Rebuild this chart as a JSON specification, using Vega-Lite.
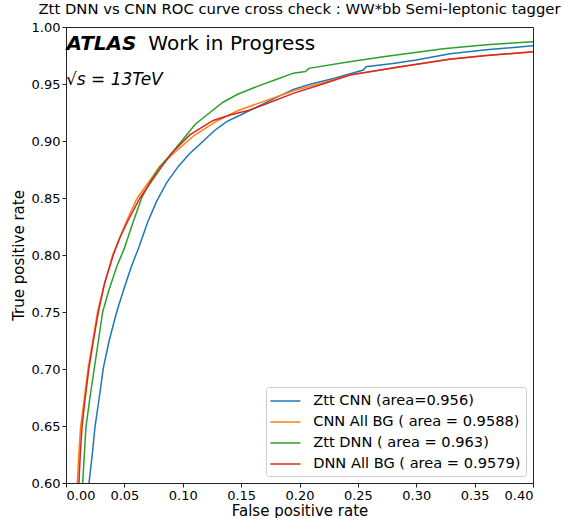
{
  "$schema": "https://vega.github.io/schema/vega-lite/v6.json",
  "width": 467,
  "height": 456,
  "autosize": {"type": "none"},
  "padding": {"left": 66, "top": 27, "right": 32, "bottom": 35},
  "config": {
    "font": "DejaVu Sans",
    "view": {"stroke": "#222", "strokeWidth": 1},
    "axis": {"grid": false, "domain": false, "tickColor": "#222", "tickSize": 4, "labelColor": "#000", "labelFontSize": 13, "titleFontSize": 15, "titleFontWeight": "normal", "titleColor": "#000", "labelPadding": 2}
  },
  "title": {"text": "Ztt DNN vs CNN ROC curve cross check : WW*bb Semi-leptonic tagger", "fontSize": 14.8, "fontWeight": "normal", "color": "#000", "anchor": "middle", "offset": 4, "frame": "group"},
  "datasets": {
    "roc": [
      {"model": "Ztt CNN (area=0.956)", "fpr": 0.0197, "tpr": 0.600},
      {"model": "Ztt CNN (area=0.956)", "fpr": 0.0225, "tpr": 0.625},
      {"model": "Ztt CNN (area=0.956)", "fpr": 0.0248, "tpr": 0.649},
      {"model": "Ztt CNN (area=0.956)", "fpr": 0.0285, "tpr": 0.675},
      {"model": "Ztt CNN (area=0.956)", "fpr": 0.0320, "tpr": 0.701},
      {"model": "Ztt CNN (area=0.956)", "fpr": 0.0370, "tpr": 0.725},
      {"model": "Ztt CNN (area=0.956)", "fpr": 0.0434, "tpr": 0.750},
      {"model": "Ztt CNN (area=0.956)", "fpr": 0.0495, "tpr": 0.770},
      {"model": "Ztt CNN (area=0.956)", "fpr": 0.0560, "tpr": 0.790},
      {"model": "Ztt CNN (area=0.956)", "fpr": 0.0625, "tpr": 0.807},
      {"model": "Ztt CNN (area=0.956)", "fpr": 0.0700, "tpr": 0.829},
      {"model": "Ztt CNN (area=0.956)", "fpr": 0.0776, "tpr": 0.847},
      {"model": "Ztt CNN (area=0.956)", "fpr": 0.0860, "tpr": 0.863},
      {"model": "Ztt CNN (area=0.956)", "fpr": 0.0960, "tpr": 0.8775},
      {"model": "Ztt CNN (area=0.956)", "fpr": 0.1060, "tpr": 0.889},
      {"model": "Ztt CNN (area=0.956)", "fpr": 0.1170, "tpr": 0.8994},
      {"model": "Ztt CNN (area=0.956)", "fpr": 0.1270, "tpr": 0.909},
      {"model": "Ztt CNN (area=0.956)", "fpr": 0.1376, "tpr": 0.917},
      {"model": "Ztt CNN (area=0.956)", "fpr": 0.1500, "tpr": 0.923},
      {"model": "Ztt CNN (area=0.956)", "fpr": 0.1576, "tpr": 0.927},
      {"model": "Ztt CNN (area=0.956)", "fpr": 0.1660, "tpr": 0.931},
      {"model": "Ztt CNN (area=0.956)", "fpr": 0.1800, "tpr": 0.938},
      {"model": "Ztt CNN (area=0.956)", "fpr": 0.1947, "tpr": 0.9453},
      {"model": "Ztt CNN (area=0.956)", "fpr": 0.2100, "tpr": 0.950},
      {"model": "Ztt CNN (area=0.956)", "fpr": 0.2300, "tpr": 0.955},
      {"model": "Ztt CNN (area=0.956)", "fpr": 0.2547, "tpr": 0.9623},
      {"model": "Ztt CNN (area=0.956)", "fpr": 0.2570, "tpr": 0.9652},
      {"model": "Ztt CNN (area=0.956)", "fpr": 0.2800, "tpr": 0.968},
      {"model": "Ztt CNN (area=0.956)", "fpr": 0.3000, "tpr": 0.971},
      {"model": "Ztt CNN (area=0.956)", "fpr": 0.3290, "tpr": 0.9765},
      {"model": "Ztt CNN (area=0.956)", "fpr": 0.3600, "tpr": 0.980},
      {"model": "Ztt CNN (area=0.956)", "fpr": 0.4000, "tpr": 0.9835},

      {"model": "\u00a0CNN All BG ( area = 0.9588)", "fpr": 0.0097, "tpr": 0.600},
      {"model": "\u00a0CNN All BG ( area = 0.9588)", "fpr": 0.0110, "tpr": 0.625},
      {"model": "\u00a0CNN All BG ( area = 0.9588)", "fpr": 0.0125, "tpr": 0.649},
      {"model": "\u00a0CNN All BG ( area = 0.9588)", "fpr": 0.0158, "tpr": 0.675},
      {"model": "\u00a0CNN All BG ( area = 0.9588)", "fpr": 0.0190, "tpr": 0.701},
      {"model": "\u00a0CNN All BG ( area = 0.9588)", "fpr": 0.0230, "tpr": 0.725},
      {"model": "\u00a0CNN All BG ( area = 0.9588)", "fpr": 0.0270, "tpr": 0.750},
      {"model": "\u00a0CNN All BG ( area = 0.9588)", "fpr": 0.0330, "tpr": 0.775},
      {"model": "\u00a0CNN All BG ( area = 0.9588)", "fpr": 0.0400, "tpr": 0.800},
      {"model": "\u00a0CNN All BG ( area = 0.9588)", "fpr": 0.0460, "tpr": 0.815},
      {"model": "\u00a0CNN All BG ( area = 0.9588)", "fpr": 0.0520, "tpr": 0.830},
      {"model": "\u00a0CNN All BG ( area = 0.9588)", "fpr": 0.0610, "tpr": 0.850},
      {"model": "\u00a0CNN All BG ( area = 0.9588)", "fpr": 0.0710, "tpr": 0.864},
      {"model": "\u00a0CNN All BG ( area = 0.9588)", "fpr": 0.0800, "tpr": 0.8775},
      {"model": "\u00a0CNN All BG ( area = 0.9588)", "fpr": 0.0920, "tpr": 0.889},
      {"model": "\u00a0CNN All BG ( area = 0.9588)", "fpr": 0.1100, "tpr": 0.905},
      {"model": "\u00a0CNN All BG ( area = 0.9588)", "fpr": 0.1300, "tpr": 0.918},
      {"model": "\u00a0CNN All BG ( area = 0.9588)", "fpr": 0.1480, "tpr": 0.927},
      {"model": "\u00a0CNN All BG ( area = 0.9588)", "fpr": 0.1700, "tpr": 0.935},
      {"model": "\u00a0CNN All BG ( area = 0.9588)", "fpr": 0.1950, "tpr": 0.944},
      {"model": "\u00a0CNN All BG ( area = 0.9588)", "fpr": 0.2200, "tpr": 0.951},
      {"model": "\u00a0CNN All BG ( area = 0.9588)", "fpr": 0.2430, "tpr": 0.958},
      {"model": "\u00a0CNN All BG ( area = 0.9588)", "fpr": 0.2860, "tpr": 0.965},
      {"model": "\u00a0CNN All BG ( area = 0.9588)", "fpr": 0.3290, "tpr": 0.972},
      {"model": "\u00a0CNN All BG ( area = 0.9588)", "fpr": 0.3600, "tpr": 0.975},
      {"model": "\u00a0CNN All BG ( area = 0.9588)", "fpr": 0.4000, "tpr": 0.978},

      {"model": "Ztt DNN ( area = 0.963)", "fpr": 0.0143, "tpr": 0.600},
      {"model": "Ztt DNN ( area = 0.963)", "fpr": 0.0157, "tpr": 0.625},
      {"model": "Ztt DNN ( area = 0.963)", "fpr": 0.0171, "tpr": 0.649},
      {"model": "Ztt DNN ( area = 0.963)", "fpr": 0.0205, "tpr": 0.675},
      {"model": "Ztt DNN ( area = 0.963)", "fpr": 0.0243, "tpr": 0.701},
      {"model": "Ztt DNN ( area = 0.963)", "fpr": 0.0278, "tpr": 0.725},
      {"model": "Ztt DNN ( area = 0.963)", "fpr": 0.0314, "tpr": 0.750},
      {"model": "Ztt DNN ( area = 0.963)", "fpr": 0.0370, "tpr": 0.770},
      {"model": "Ztt DNN ( area = 0.963)", "fpr": 0.0435, "tpr": 0.790},
      {"model": "Ztt DNN ( area = 0.963)", "fpr": 0.0500, "tpr": 0.806},
      {"model": "Ztt DNN ( area = 0.963)", "fpr": 0.0575, "tpr": 0.829},
      {"model": "Ztt DNN ( area = 0.963)", "fpr": 0.0648, "tpr": 0.850},
      {"model": "Ztt DNN ( area = 0.963)", "fpr": 0.0725, "tpr": 0.865},
      {"model": "Ztt DNN ( area = 0.963)", "fpr": 0.0805, "tpr": 0.8775},
      {"model": "Ztt DNN ( area = 0.963)", "fpr": 0.0905, "tpr": 0.8892},
      {"model": "Ztt DNN ( area = 0.963)", "fpr": 0.1020, "tpr": 0.9038},
      {"model": "Ztt DNN ( area = 0.963)", "fpr": 0.1105, "tpr": 0.9145},
      {"model": "Ztt DNN ( area = 0.963)", "fpr": 0.1233, "tpr": 0.925},
      {"model": "Ztt DNN ( area = 0.963)", "fpr": 0.1345, "tpr": 0.934},
      {"model": "Ztt DNN ( area = 0.963)", "fpr": 0.1470, "tpr": 0.941},
      {"model": "Ztt DNN ( area = 0.963)", "fpr": 0.1633, "tpr": 0.9477},
      {"model": "Ztt DNN ( area = 0.963)", "fpr": 0.1800, "tpr": 0.954},
      {"model": "Ztt DNN ( area = 0.963)", "fpr": 0.1947, "tpr": 0.9595},
      {"model": "Ztt DNN ( area = 0.963)", "fpr": 0.2050, "tpr": 0.961},
      {"model": "Ztt DNN ( area = 0.963)", "fpr": 0.2080, "tpr": 0.9637},
      {"model": "Ztt DNN ( area = 0.963)", "fpr": 0.2400, "tpr": 0.969},
      {"model": "Ztt DNN ( area = 0.963)", "fpr": 0.2718, "tpr": 0.974},
      {"model": "Ztt DNN ( area = 0.963)", "fpr": 0.3232, "tpr": 0.981},
      {"model": "Ztt DNN ( area = 0.963)", "fpr": 0.3600, "tpr": 0.9845},
      {"model": "Ztt DNN ( area = 0.963)", "fpr": 0.4000, "tpr": 0.9871},

      {"model": "\u00a0DNN All BG ( area = 0.9579)", "fpr": 0.0111, "tpr": 0.600},
      {"model": "\u00a0DNN All BG ( area = 0.9579)", "fpr": 0.0122, "tpr": 0.625},
      {"model": "\u00a0DNN All BG ( area = 0.9579)", "fpr": 0.0137, "tpr": 0.649},
      {"model": "\u00a0DNN All BG ( area = 0.9579)", "fpr": 0.0165, "tpr": 0.675},
      {"model": "\u00a0DNN All BG ( area = 0.9579)", "fpr": 0.0197, "tpr": 0.701},
      {"model": "\u00a0DNN All BG ( area = 0.9579)", "fpr": 0.0235, "tpr": 0.725},
      {"model": "\u00a0DNN All BG ( area = 0.9579)", "fpr": 0.0277, "tpr": 0.750},
      {"model": "\u00a0DNN All BG ( area = 0.9579)", "fpr": 0.0330, "tpr": 0.775},
      {"model": "\u00a0DNN All BG ( area = 0.9579)", "fpr": 0.0405, "tpr": 0.800},
      {"model": "\u00a0DNN All BG ( area = 0.9579)", "fpr": 0.0465, "tpr": 0.816},
      {"model": "\u00a0DNN All BG ( area = 0.9579)", "fpr": 0.0534, "tpr": 0.8307},
      {"model": "\u00a0DNN All BG ( area = 0.9579)", "fpr": 0.0634, "tpr": 0.850},
      {"model": "\u00a0DNN All BG ( area = 0.9579)", "fpr": 0.0720, "tpr": 0.8629},
      {"model": "\u00a0DNN All BG ( area = 0.9579)", "fpr": 0.0820, "tpr": 0.8775},
      {"model": "\u00a0DNN All BG ( area = 0.9579)", "fpr": 0.0905, "tpr": 0.8892},
      {"model": "\u00a0DNN All BG ( area = 0.9579)", "fpr": 0.1060, "tpr": 0.9053},
      {"model": "\u00a0DNN All BG ( area = 0.9579)", "fpr": 0.1260, "tpr": 0.918},
      {"model": "\u00a0DNN All BG ( area = 0.9579)", "fpr": 0.1405, "tpr": 0.9228},
      {"model": "\u00a0DNN All BG ( area = 0.9579)", "fpr": 0.1576, "tpr": 0.9272},
      {"model": "\u00a0DNN All BG ( area = 0.9579)", "fpr": 0.1700, "tpr": 0.932},
      {"model": "\u00a0DNN All BG ( area = 0.9579)", "fpr": 0.1947, "tpr": 0.9418},
      {"model": "\u00a0DNN All BG ( area = 0.9579)", "fpr": 0.2200, "tpr": 0.950},
      {"model": "\u00a0DNN All BG ( area = 0.9579)", "fpr": 0.2433, "tpr": 0.9579},
      {"model": "\u00a0DNN All BG ( area = 0.9579)", "fpr": 0.2860, "tpr": 0.9652},
      {"model": "\u00a0DNN All BG ( area = 0.9579)", "fpr": 0.3290, "tpr": 0.9717},
      {"model": "\u00a0DNN All BG ( area = 0.9579)", "fpr": 0.3600, "tpr": 0.975},
      {"model": "\u00a0DNN All BG ( area = 0.9579)", "fpr": 0.4000, "tpr": 0.9784}
    ]
  },
  "layer": [
    {
      "data": {"name": "roc"},
      "mark": {"type": "line", "clip": true, "strokeWidth": 1.5},
      "encoding": {
        "x": {"field": "fpr", "type": "quantitative", "title": "False positive rate", "scale": {"domain": [0, 0.4], "nice": false}, "axis": {"values": [0, 0.05, 0.1, 0.15, 0.2, 0.25, 0.3, 0.35, 0.4], "format": ".2f", "titlePadding": 1}},
        "y": {"field": "tpr", "type": "quantitative", "title": "True positive rate", "scale": {"domain": [0.6, 1.0], "nice": false, "zero": false}, "axis": {"values": [0.6, 0.65, 0.7, 0.75, 0.8, 0.85, 0.9, 0.95, 1.0], "format": ".2f", "titlePadding": 5}},
        "color": {"field": "model", "type": "nominal", "title": null,
          "scale": {"domain": ["Ztt CNN (area=0.956)", "\u00a0CNN All BG ( area = 0.9588)", "Ztt DNN ( area = 0.963)", "\u00a0DNN All BG ( area = 0.9579)"], "range": ["#1f77b4", "#ff7f0e", "#2ca02c", "#d62728"]},
          "legend": {"orient": "bottom-right", "offset": 7, "symbolType": "M-1.9,0H1.9", "symbolSize": 250, "symbolStrokeWidth": 1.5, "symbolOffset": 5.4, "labelFontSize": 14.6, "labelColor": "#000", "labelLimit": 400, "rowPadding": 5, "padding": 5, "strokeColor": "#cccccc", "fillColor": "#ffffff", "cornerRadius": 3, "labelOffset": 18.8}
        },
        "order": {"field": "fpr", "type": "quantitative"}
      }
    },
    {
      "data": {"values": [{}]},
      "mark": {"type": "text", "text": "ATLAS", "fontSize": 20, "fontWeight": "bold", "fontStyle": "italic", "align": "left", "baseline": "alphabetic", "color": "#000"},
      "encoding": {"x": {"datum": 0.0005}, "y": {"datum": 0.9798}}
    },
    {
      "data": {"values": [{}]},
      "mark": {"type": "text", "text": "Work in Progress", "fontSize": 20, "align": "left", "baseline": "alphabetic", "color": "#000"},
      "encoding": {"x": {"datum": 0.0705}, "y": {"datum": 0.9798}}
    },
    {
      "data": {"values": [{}]},
      "mark": {"type": "text", "text": "√s = 13TeV", "fontSize": 17, "fontStyle": "italic", "align": "left", "baseline": "alphabetic", "color": "#000"},
      "encoding": {"x": {"datum": 0.0}, "y": {"datum": 0.9495}}
    }
  ]
}
